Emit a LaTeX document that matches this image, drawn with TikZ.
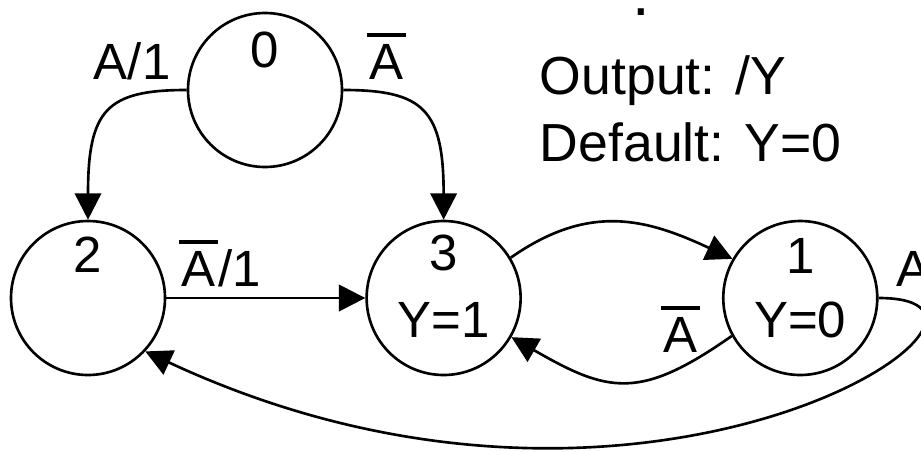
\documentclass[tikz,border=0pt]{standalone}
\usepackage{fontspec}
\setmainfont{Liberation Sans}
\usepackage{tikz}
\usetikzlibrary{arrows.meta, positioning}

\newcommand{\lblfont}{\fontsize{29}{32}\selectfont}
\newcommand{\notefont}{\fontsize{30.5}{36}\selectfont}
\newcommand{\Abar}{\leavevmode\vbox{\hrule height 2.4pt\kern 4.2pt\hbox{\kern1.5pt A\kern1.5pt}}}

\begin{document}
\begin{tikzpicture}[
  >={Triangle[length=15pt, width=15pt]},
  line width=1.5pt,
  state/.style={draw, circle, minimum size=3.08cm, inner sep=0pt},
  num/.style={font=\lblfont, inner sep=0pt},
  lbl/.style={font=\lblfont, inner sep=0pt},
  note/.style={font=\notefont, inner sep=0pt, anchor=base west}
]
\useasboundingbox (0,0) rectangle (18.42,9.02);

% States
\node[state] (n0) at (5.30,7.22) {};
\node[state] (n2) at (1.76,3.06) {};
\node[state, right=3.98cm of n2] (n3) {};
\node[state, right=4.0cm of n3] (n1) {};

% State numbers and outputs
\node[num] (t0) at ([yshift=0.8cm]n0.center) {0};
\node[num] (t2) at ([yshift=0.86cm]n2.center) {2};
\node[num] (t3) at ([yshift=0.9cm]n3.center) {3};
\node[num] (y3) at ([yshift=-0.44cm]n3.center) {Y=1};
\node[num] (t1) at ([yshift=0.84cm]n1.center) {1};
\node[num] (y1) at ([yshift=-0.44cm]n1.center) {Y=0};

% Notes
\node[note] (outnote) at (10.77,7.14) {Output: /Y};
\node[note] (defnote) at (10.77,5.80) {Default: Y=0};
\node[lbl, anchor=base, font=\fontsize{36}{40}\selectfont] (dot) at (12.82,8.72) {.};

% Transitions
\draw[->] (n0.west) node[lbl, anchor=south east, xshift=-0.3cm, yshift=0.18cm] (l02) {A/1}
  to[out=180, in=90, out distance=1.6cm, in distance=2.2cm] (n2.north);
\draw[->] (n0.east) node[lbl, anchor=south west, xshift=0.44cm, yshift=0.18cm] (l03) {\Abar}
  to[out=0, in=90, out distance=1.6cm, in distance=2.2cm] (n3.north);
\draw[->] (n2) -- node[lbl, above, pos=0.27, yshift=0.2cm] (l23) {\Abar/1} (n3);
\draw[->] (n3.31) to[out=35, in=155, looseness=1.1] (n1.150);
\draw[->] (n1.209) node[lbl, anchor=south east, xshift=-0.6cm, yshift=-0.36cm] (l13) {\Abar}
  to[out=215, in=-30, looseness=1.3] (n3.-30);
\draw[->] (n1.east) node[lbl, anchor=south west, xshift=0.34cm, yshift=0.2cm] (l12) {A}
  to[out=0, in=-25, out distance=3.8cm, in distance=11.2cm] (n2.-43);

\end{tikzpicture}
\end{document}
